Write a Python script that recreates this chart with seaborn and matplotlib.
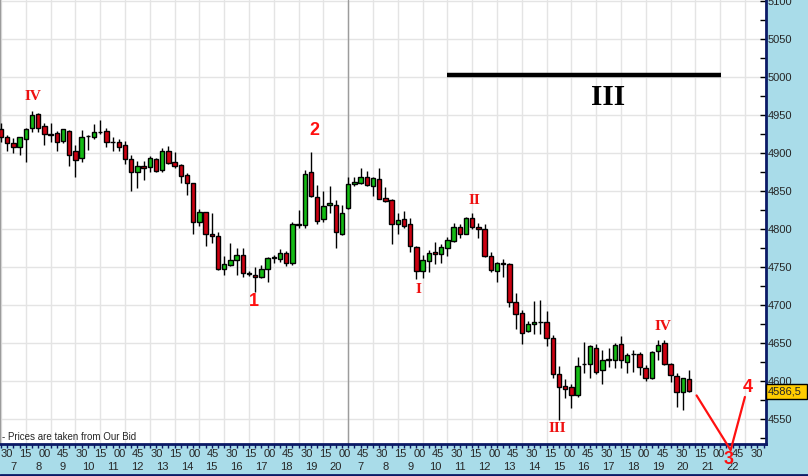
import matplotlib
matplotlib.use("Agg")
import matplotlib.pyplot as plt
from matplotlib.lines import Line2D
from matplotlib.patches import Rectangle
import numpy as np
import pandas as pd
import seaborn as sns

# 15-minute candles, day 1 07:00-20:45 (56 bars), day 2 from 07:00
OPEN = [4932, 4921, 4913, 4908, 4919, 4933, 4951, 4935, 4925, 4926,
        4916, 4929, 4903, 4893, 4922, 4921, 4928, 4929, 4915, 4914,
        4910, 4892, 4875, 4883, 4881, 4892, 4877, 4903, 4888, 4884,
        4871, 4860, 4809, 4822, 4794, 4791, 4748, 4752, 4759, 4766,
        4742, 4740, 4737, 4747, 4762, 4761, 4769, 4755, 4805, 4805,
        4875, 4842, 4813, 4831, 4832, 4794,
        4827, 4859, 4860, 4869, 4856, 4866, 4841, 4838, 4806, 4813,
        4806, 4776, 4745, 4758, 4770, 4767, 4775, 4784, 4803, 4794,
        4814, 4802, 4800, 4764, 4745, 4755, 4754, 4704, 4689, 4666,
        4675, 4677, 4677, 4657, 4609, 4593, 4592, 4582, 4622, 4622,
        4643, 4614, 4628, 4628, 4649, 4625, 4635, 4636, 4617, 4604,
        4639, 4650, 4622, 4607, 4585, 4602]
HIGH = [4940, 4924, 4920, 4921, 4933, 4955, 4952, 4939, 4939, 4929,
        4932, 4930, 4910, 4930, 4924, 4938, 4943, 4933, 4921, 4918,
        4916, 4897, 4890, 4890, 4896, 4893, 4906, 4909, 4901, 4885,
        4874, 4861, 4826, 4823, 4821, 4796, 4764, 4781, 4775, 4775,
        4745, 4750, 4752, 4763, 4766, 4774, 4771, 4809, 4825, 4878,
        4901, 4858, 4850, 4856, 4838, 4832,
        4868, 4869, 4880, 4876, 4868, 4880, 4855, 4839, 4821, 4824,
        4814, 4777, 4766, 4772, 4783, 4780, 4790, 4808, 4806, 4816,
        4821, 4808, 4806, 4770, 4757, 4761, 4755, 4716, 4693, 4679,
        4705, 4707, 4692, 4660, 4620, 4603, 4596, 4631, 4651, 4647,
        4649, 4641, 4643, 4650, 4659, 4637, 4641, 4638, 4621, 4640,
        4654, 4654, 4624, 4610, 4604, 4614]
LOW = [4914, 4903, 4900, 4897, 4888, 4928, 4927, 4910, 4914, 4902,
       4913, 4883, 4869, 4888, 4904, 4918, 4925, 4908, 4902, 4902,
       4886, 4850, 4854, 4865, 4875, 4875, 4875, 4885, 4880, 4861,
       4845, 4794, 4804, 4777, 4781, 4746, 4739, 4751, 4739, 4737,
       4738, 4717, 4736, 4730, 4755, 4757, 4751, 4753, 4801, 4801,
       4842, 4807, 4809, 4821, 4775, 4792,
       4826, 4856, 4859, 4856, 4843, 4839, 4836, 4780, 4794, 4801,
       4770, 4734, 4735, 4744, 4754, 4755, 4765, 4783, 4788, 4793,
       4800, 4788, 4763, 4743, 4730, 4737, 4698, 4668, 4649, 4665,
       4662, 4662, 4646, 4604, 4549, 4577, 4565, 4579, 4611, 4604,
       4609, 4596, 4619, 4617, 4617, 4610, 4612, 4608, 4600, 4603,
       4628, 4621, 4599, 4566, 4562, 4585]
CLOSE = [4921, 4913, 4908, 4921, 4932, 4950, 4933, 4925, 4924, 4914,
         4931, 4897, 4891, 4921, 4923, 4927, 4927, 4914, 4914, 4908,
         4892, 4875, 4883, 4880, 4893, 4876, 4903, 4887, 4883, 4870,
         4860, 4809, 4822, 4794, 4791, 4747, 4754, 4759, 4766, 4742,
         4741, 4737, 4747, 4762, 4763, 4768, 4755, 4806, 4806, 4873,
         4843, 4811, 4830, 4834, 4796, 4821,
         4859, 4862, 4869, 4858, 4867, 4840, 4837, 4806, 4812, 4804,
         4777, 4745, 4759, 4769, 4767, 4776, 4786, 4802, 4794, 4814,
         4802, 4800, 4764, 4746, 4755, 4754, 4704, 4688, 4663, 4675,
         4677, 4678, 4657, 4609, 4592, 4590, 4582, 4620, 4623, 4646,
         4612, 4628, 4629, 4647, 4627, 4634, 4636, 4619, 4604, 4638,
         4648, 4622, 4608, 4585, 4604, 4586.5]

HOUR_LABELS = [str(h) for h in range(7, 21)] + [str(h) for h in range(7, 23)]
MINUTE_LABELS = ["30", "15", "00", "45"] * 10 + ["30"]
PRICE_TICKS = list(range(4550, 5101, 50))
LAST_PRICE = 4586.5
LAST_PRICE_TEXT = "4586,5"
NOTE = "- Prices are taken from Our Bid"

WAVE_TEXT = ["IV", "I", "II", "III", "IV"]
WAVE_X = [5.2, 67.3, 76.3, 89.7, 106.7]
WAVE_Y = [4974, 4720, 4838, 4538, 4672]

COUNT_TEXT = ["1", "2", "3", "4"]
COUNT_X = [40.8, 50.5, 117.4, 120.5]
COUNT_Y = [4705, 4930, 4497, 4591]

TARGET_TEXT = "III"
TARGET_TEXT_X, TARGET_TEXT_Y = 97.9, 4973
TARGET_LEVEL = 5003
TARGET_START, TARGET_END = 71.9, 116.1

PROJ_X = [112.2, 117.7, 120.0]
PROJ_Y = [4581, 4509, 4579]

PANEL = "#A9DCE9"
NAVY = "#0B1A66"
GREEN = "#14BB14"
RED = "#CC0011"
MARK = "#EE1111"


def main():
    sns.set_theme(style="white")
    plt.rcParams["font.family"] = ["Liberation Sans", "DejaVu Sans"]

    df = pd.DataFrame({"open": OPEN, "high": HIGH, "low": LOW, "close": CLOSE})
    df["idx"] = np.arange(len(df))
    df["up"] = df["close"] >= df["open"]

    fig = plt.figure(figsize=(8.08, 4.76), dpi=100)
    fig.patch.set_facecolor(PANEL)
    ax = fig.add_axes([0, 32 / 476, 766 / 808, 444 / 476])
    ax.set_facecolor("white")

    ax.vlines(df["idx"], df["low"], df["high"], color="black", lw=1, zorder=3)
    ax.bar(df["idx"], df["close"] - df["open"], bottom=df["open"], width=0.72,
           color=np.where(df["up"], GREEN, RED), edgecolor="black",
           linewidth=1, zorder=4)

    ax.set_xlim(-0.16, 123.4)
    ax.set_ylim(4517.1, 5101.3)

    ax.set_xticks(np.arange(0, 124, 4))
    ax.set_xticks(np.arange(0, 124, 1), minor=True)
    ax.set_xticklabels([])
    ax.tick_params(axis="x", which="both", direction="out", length=3,
                   width=1, color=NAVY, bottom=True)

    ax.yaxis.tick_right()
    ax.set_yticks(PRICE_TICKS)
    ax.set_yticks(np.arange(4525, 5101, 50), minor=True)
    ax.tick_params(axis="y", which="both", direction="in", length=4, width=1,
                   color="black", right=True, left=False, labelsize=8, pad=1.5)

    ax.grid(True, which="major", color="#E4E4E4", lw=1, zorder=0)
    ax.set_axisbelow(True)
    ax.axvline(55.9, color="#9C9C9C", lw=1, zorder=1)

    for side in ["right", "bottom"]:
        ax.spines[side].set_color(NAVY)
        ax.spines[side].set_linewidth(2)
    ax.spines["left"].set_color("#9C9C9C")
    ax.spines["left"].set_linewidth(1)
    ax.spines["top"].set_visible(False)

    xt = ax.get_xaxis_transform()
    for i, lab in enumerate(HOUR_LABELS):
        ax.text(4 * i + 2, -0.052, lab, transform=xt, ha="center",
                va="center", fontsize=8, clip_on=False)
    minute_pos = np.linspace(0.97, 121.9, len(MINUTE_LABELS))
    for pos, lab in zip(minute_pos, MINUTE_LABELS):
        ax.text(pos, -0.0225, lab, transform=xt, ha="center", va="center",
                fontsize=8, clip_on=False)

    ax.text(0.002, 0.016, NOTE, transform=ax.transAxes, fontsize=7,
            va="center", ha="left")

    # last price box on the price scale
    yt = ax.get_yaxis_transform()
    ax.add_patch(Rectangle((1.0, LAST_PRICE - 9.8), 41 / 766, 19.6,
                           transform=yt, facecolor="#FFCC00",
                           edgecolor="black", lw=1, clip_on=False, zorder=10))
    ax.text(1.0 + 2 / 766, LAST_PRICE, LAST_PRICE_TEXT, transform=yt,
            fontsize=8, va="center", ha="left", clip_on=False, zorder=11)

    # wave marks
    for t, x, y in zip(WAVE_TEXT, WAVE_X, WAVE_Y):
        ax.text(x, y, t, color=MARK, fontsize=11, fontweight="bold",
                family="Liberation Serif", ha="center", va="center", zorder=6)
    ax.plot([TARGET_START, TARGET_END], [TARGET_LEVEL, TARGET_LEVEL],
            color="black", lw=3.2, solid_capstyle="butt", zorder=6)
    ax.text(TARGET_TEXT_X, TARGET_TEXT_Y, TARGET_TEXT, color="black",
            fontsize=21, fontweight="bold", family="Liberation Serif",
            ha="center", va="center", zorder=6)
    ax.plot(PROJ_X, PROJ_Y, color="#FF1010", lw=1.6, clip_on=False, zorder=7)
    for t, x, y in zip(COUNT_TEXT, COUNT_X, COUNT_Y):
        ax.text(x, y, t, color="#FF1010", fontsize=13, fontweight="bold",
                ha="center", va="center", clip_on=False, zorder=8)

    fig.add_artist(Line2D([0, 1], [1.5 / 476, 1.5 / 476], color=NAVY, lw=2))

    fig.savefig("out.png", dpi=100, facecolor=fig.get_facecolor())
    plt.close(fig)


if __name__ == "__main__":
    main()
